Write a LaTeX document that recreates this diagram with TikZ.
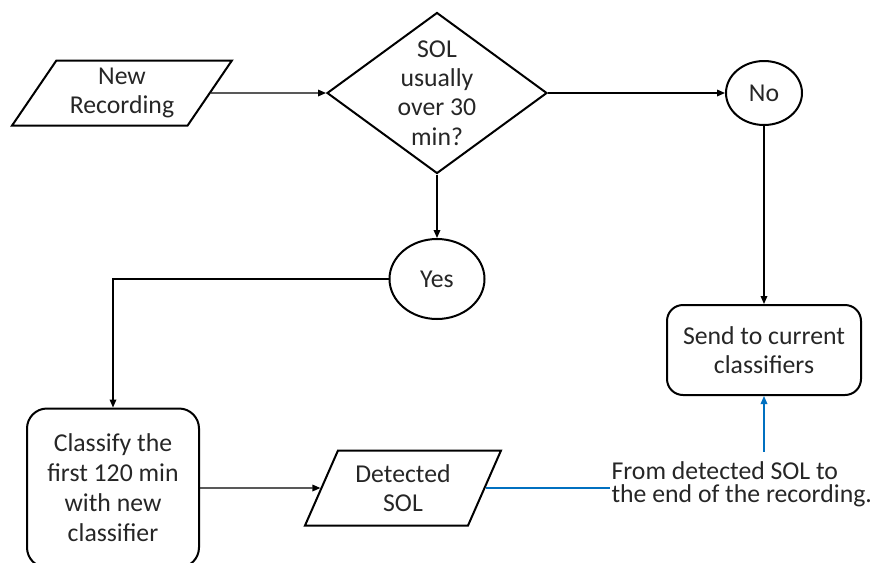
\documentclass[tikz,border=0pt]{standalone}
\usepackage{fontspec}
\setmainfont{Carlito}
\usetikzlibrary{shapes.geometric}
\usetikzlibrary{arrows.meta}

\definecolor{txtgray}{RGB}{38,38,38}
\definecolor{linkblue}{RGB}{0,112,192}

\tikzset{
  flowline/.style={draw=black, line width=0.9pt, -{Triangle[length=6pt,width=5pt]}},
  blueline/.style={draw=linkblue, line width=0.9pt},
  iobox/.style={trapezium, trapezium stretches=true, draw=black, line width=1.5pt, align=center, inner sep=0pt},
  decision/.style={diamond, draw=black, line width=1.5pt, inner sep=0pt},
  answer/.style={ellipse, draw=black, line width=1.5pt, inner sep=0pt},
  process/.style={rectangle, rounded corners=12pt, draw=black, line width=1.5pt, align=center, inner sep=0pt}
}

\begin{document}
\begin{tikzpicture}[x=0.75pt,y=0.75pt,yscale=-1,xscale=1,
  font=\fontsize{19.3}{22}\selectfont, text=txtgray]
\useasboundingbox (0,0) rectangle (876,562);

% Input
\node[iobox, trapezium left angle=55, trapezium right angle=125,
  minimum width=165pt, minimum height=48.75pt] (rec) at (122,93) {New\\Recording};
% Question
\node[decision, minimum width=165pt, minimum height=120.75pt,
  label={[align=center, font=\fontsize{19.3}{22}\selectfont]center:SOL\\usually\\over 30\\min?}] (sol) at (437,93) {};
% Answers
\node[answer, minimum width=57pt, minimum height=48pt] (no) at (764,93) {No};
\node[answer, minimum width=71.25pt, minimum height=60pt] (yes) at (437,279) {Yes};
% Steps
\node[process, minimum width=145.5pt, minimum height=67.5pt] (send) at (764,350) {Send to current\\classifiers};
\node[process, rounded corners=15pt, minimum width=129pt, minimum height=119.25pt,
  font=\fontsize{19.3}{22.5}\selectfont] (cls) at (113,488) {Classify the\\first 120 min\\with new\\classifier};
\node[iobox, trapezium left angle=63, trapezium right angle=117,
  minimum width=147pt, minimum height=56.25pt] (det) at (403,488) {Detected\\SOL};
% Note
\node[anchor=west, align=left, inner xsep=1pt, inner ysep=7pt,
  font=\fontsize{19.3}{17.5}\selectfont] (from) at (610,484) {From detected SOL to\\the end of the recording.};

% Connectors
\draw[flowline] (rec.east) -- (sol.west);
\draw[flowline] (sol.east) -- (no.west);
\draw[flowline] (sol.south) -- (yes.north);
\draw[flowline] (no.south) -- (send.north);
\draw[flowline] (yes.west) -| (cls.north);
\draw[flowline] (cls.east) -- (det.west);
\draw[blueline] (det.east) -- (det.east -| from.west);
\draw[blueline, -{Triangle[length=6pt,width=5pt]}] (send.south |- from.north) -- (send.south);

\end{tikzpicture}
\end{document}
